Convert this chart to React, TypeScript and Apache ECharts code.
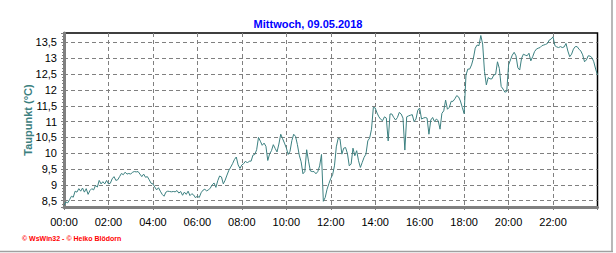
import React, { useEffect, useRef } from "react";
import * as echarts from "echarts";

// Dew point readings, one every 5 minutes (°C)
const night: number[] = [
  8.35, 8.46, 8.43, 8.53, 8.64, 8.61, 8.8, 8.77, 8.88, 8.8, 8.9, 8.77,
  8.88, 8.7, 8.82, 8.88, 8.84, 8.98, 8.93, 9.14, 9.03, 9.1, 9.03, 9.14,
  9.03, 9.05, 9.19, 9.26, 9.14, 9.16, 9.26, 9.36, 9.32, 9.4, 9.34, 9.36,
  9.34, 9.4, 9.42, 9.41, 9.42, 9.34, 9.26, 9.34, 9.24, 9.26, 9.16, 9.05,
  9.03, 8.93, 8.84, 8.91, 8.8, 8.7, 8.64, 8.77, 8.8, 8.79, 8.78, 8.79,
  8.78, 8.82, 8.74, 8.79, 8.67, 8.77, 8.7, 8.8, 8.66, 8.72, 8.68, 8.59,
];
const morning: number[] = [
  8.65, 8.6, 8.75, 8.83, 8.86, 8.81, 8.84, 8.9, 9.0, 9.06, 8.92, 9.13,
  9.28, 9.25, 9.03, 9.15, 9.31, 9.46, 9.56, 9.67, 9.8, 9.88, 9.63, 9.52,
  9.63, 9.67, 9.75, 9.69, 9.75, 9.75, 9.94, 9.96, 10.11, 10.5, 10.38, 10.25,
  10.32, 10.22, 9.77, 9.98, 10.08, 10.27, 10.15, 10.04, 10.29, 10.6, 10.46, 10.32,
  10.17, 9.96, 10.06, 10.4, 10.6, 10.53, 10.27, 9.94, 9.73, 9.35, 9.42, 10.11,
  9.75, 9.44, 9.42, 9.42, 9.35, 9.42, 9.6, 9.96, 8.48, 8.6, 8.86, 9.04,
];
const afternoon: number[] = [
  9.2, 9.32, 9.6, 10.2, 10.47, 10.45, 9.97, 10.16, 10.18, 9.99, 9.6, 9.66,
  10.16, 9.92, 10.08, 9.76, 9.55, 9.71, 9.87, 9.97, 10.39, 10.48, 10.76, 11.45,
  11.43, 11.27, 11.15, 11.07, 11.03, 11.15, 11.11, 10.39, 11.24, 11.24, 11.13, 11.05,
  11.13, 11.29, 11.24, 11.11, 10.1, 11.15, 11.18, 11.2, 11.22, 11.0, 11.08, 11.36,
  11.43, 11.08, 11.11, 11.13, 11.11, 10.6, 11.05, 11.13, 11.0, 11.08, 11.03, 10.76,
  11.26, 11.34, 11.68, 11.39, 11.45, 11.64, 11.64, 11.72, 11.82, 11.78, 11.65, 11.45,
];
const evening: number[] = [
  11.25, 12.47, 12.66, 12.66, 12.79, 13.0, 13.32, 13.42, 13.4, 13.72, 13.45, 12.58,
  12.16, 12.39, 12.35, 12.35, 12.47, 12.49, 12.89, 12.68, 12.11, 12.03, 11.93, 11.95,
  12.79, 12.95, 13.1, 13.19, 13.08, 12.7, 12.63, 13.0, 13.13, 13.1, 13.08, 13.16,
  12.92, 13.05, 13.21, 13.29, 13.32, 13.34, 13.4, 13.42, 13.44, 13.47, 13.58, 13.61,
  13.68, 13.4, 13.36, 13.34, 13.37, 13.34, 13.36, 13.47, 13.23, 13.05, 13.13, 13.29,
  13.37, 13.37, 13.29, 13.23, 13.11, 12.89, 12.95, 13.08, 13.07, 13.02, 12.89, 12.66,
  12.47,
];
const stepMinutes = 5;
const xTickLabels: string[] = [
  "00:00", "02:00", "04:00", "06:00", "08:00", "10:00",
  "12:00", "14:00", "16:00", "18:00", "20:00", "22:00",
];
const titleText = "Mittwoch, 09.05.2018";
const yName = "Taupunkt (°C)";
const footer = "© WsWin32 - © Heiko Blödorn";

export default function App() {
  const ref = useRef<HTMLDivElement>(null);
  useEffect(() => {
    if (!ref.current) return;
    const chart = echarts.init(ref.current, undefined, { renderer: "svg" });
    const values = [...night, ...morning, ...afternoon, ...evening];
    const data = values.map((v, i) => [(i * stepMinutes) / 60, v]);
    const font = "'Liberation Sans', Arial, sans-serif";
    chart.setOption({
      animation: false,
      backgroundColor: "#ffffff",
      title: {
        text: titleText,
        left: "center",
        top: 13,
        textStyle: { color: "#0000ff", fontSize: 11, fontWeight: "bold", fontFamily: font },
      },
      grid: {
        left: 64,
        right: 18.5,
        top: 33,
        bottom: 46,
        show: true,
        borderColor: "#000000",
        borderWidth: 1.5,
      },
      xAxis: {
        type: "value",
        min: 0,
        max: 24,
        interval: 2,
        axisLine: { show: true, lineStyle: { color: "#808080", width: 3 } },
        axisTick: { show: true, length: 3, lineStyle: { color: "#808080" } },
        minorTick: { show: true, splitNumber: 4, length: 2, lineStyle: { color: "#808080" } },
        axisLabel: {
          color: "#000000",
          fontSize: 11,
          fontFamily: font,
          margin: 9,
          formatter: (v: number) => xTickLabels[Math.round(v / 2)] ?? "",
        },
        splitLine: {
          show: true,
          showMinLine: false,
          showMaxLine: false,
          lineStyle: { color: "#808080", type: [4, 3], width: 1 },
        },
      },
      yAxis: {
        type: "value",
        min: 8.3,
        max: 13.8,
        splitNumber: 11,
        name: yName,
        nameLocation: "middle",
        nameGap: 31,
        nameMoveOverlap: false,
        nameTextStyle: { color: "#3c8080", fontSize: 11, fontWeight: "bold", fontFamily: font },
        axisLine: { show: true, lineStyle: { color: "#808080", width: 3 } },
        axisTick: { show: true, length: 3, lineStyle: { color: "#808080" } },
        minorTick: { show: true, splitNumber: 5, length: 2, lineStyle: { color: "#808080" } },
        axisLabel: {
          color: "#000000",
          fontSize: 11,
          fontFamily: font,
          margin: 7,
          showMinLabel: true,
          showMaxLabel: true,
          formatter: (v: number) => {
            if (Math.abs(v * 2 - Math.round(v * 2)) > 1e-6) return "";
            return String(Math.round(v * 10) / 10).replace(".", ",");
          },
        },
        splitLine: {
          show: true,
          showMinLine: false,
          showMaxLine: false,
          lineStyle: { color: "#808080", type: [4, 3], width: 1 },
        },
      },
      series: [
        {
          type: "line",
          data,
          showSymbol: false,
          symbol: "none",
          lineStyle: { color: "#3c8080", width: 1 },
          clip: true,
        },
      ],
      graphic: [
        {
          type: "text",
          left: 22,
          top: 235,
          style: { text: footer, fill: "#ff0000", font: `bold 7px ${font}` },
        },
        {
          type: "line",
          shape: { x1: 612, y1: 0, x2: 612, y2: 251 },
          style: { stroke: "#a0a0a0", lineWidth: 1.5 },
        },
        {
          type: "line",
          shape: { x1: 0, y1: 251.5, x2: 613, y2: 251.5 },
          style: { stroke: "#a0a0a0", lineWidth: 1.5 },
        },
      ],
    });
    return () => chart.dispose();
  }, []);
  return (
    <div
      ref={ref}
      style={{ position: "absolute", left: 0, top: 0, width: 616, height: 253 }}
    />
  );
}
